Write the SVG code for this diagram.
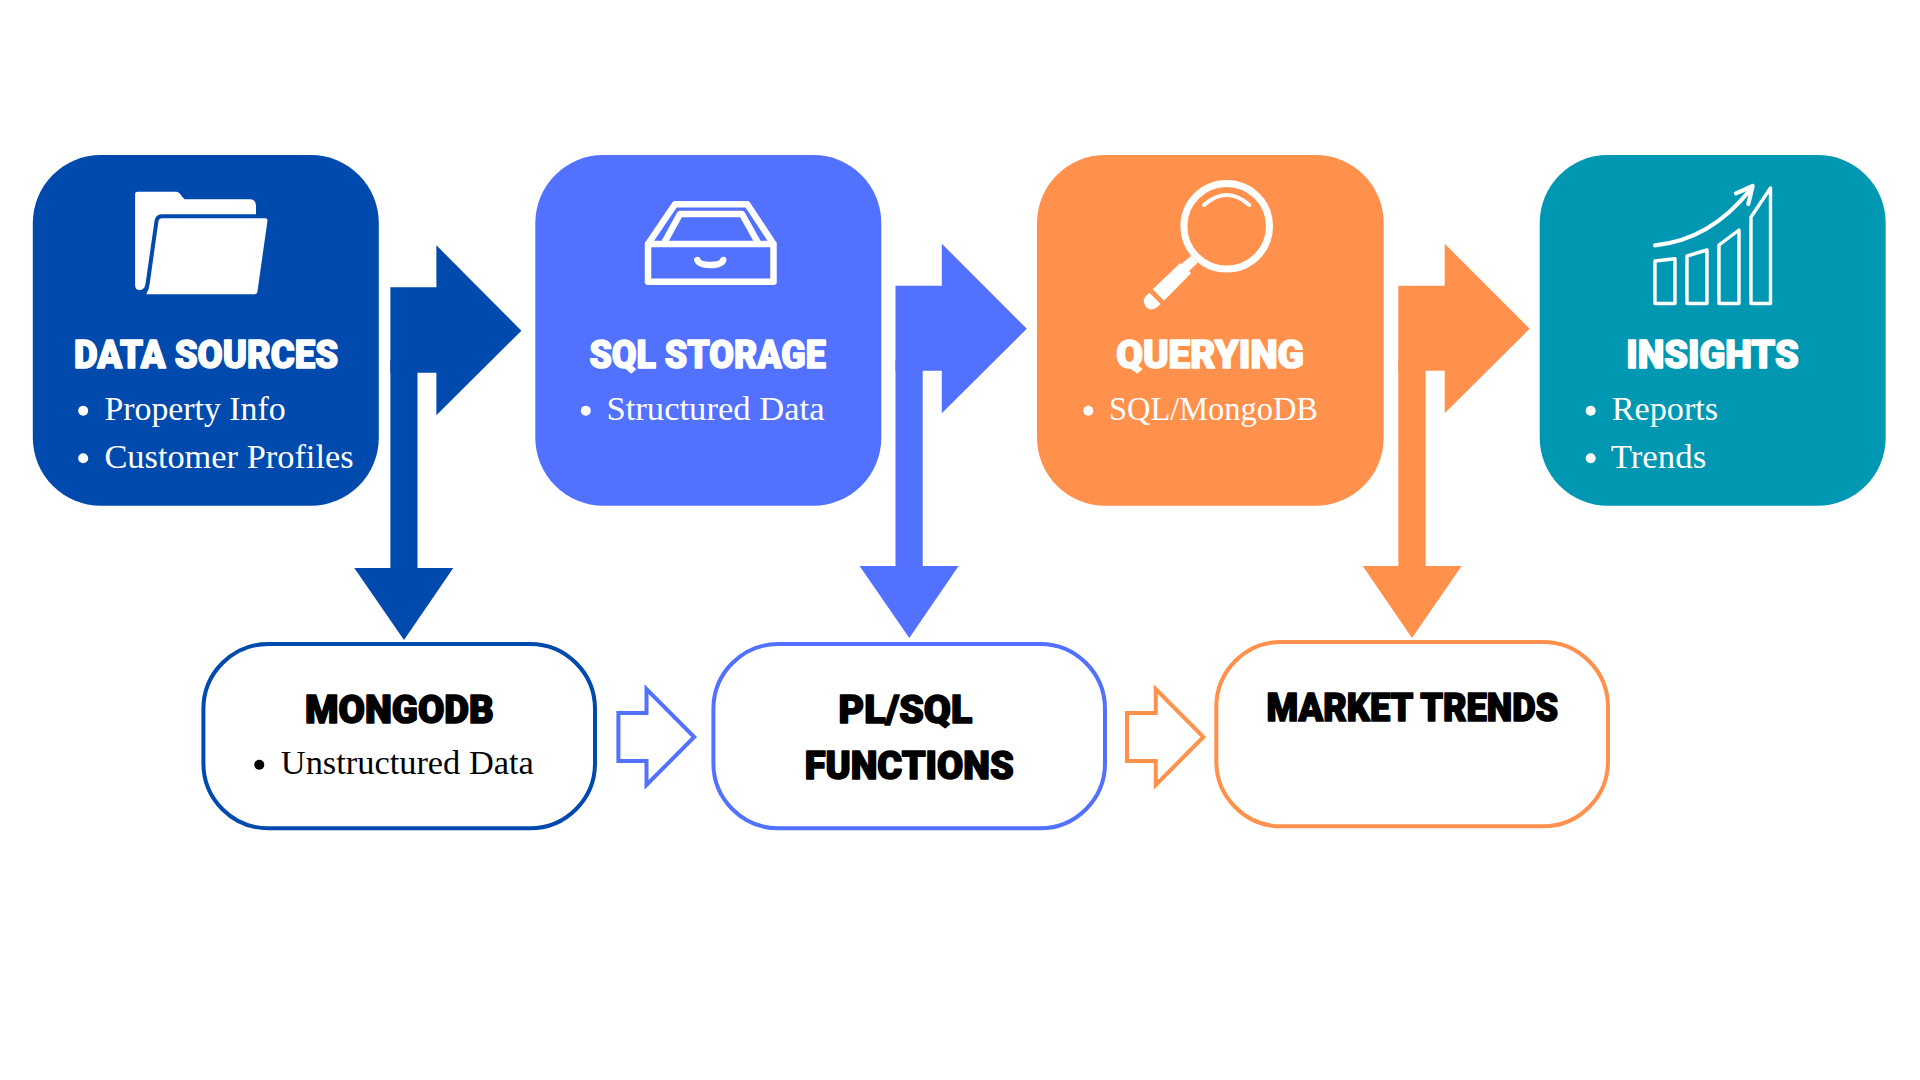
<svg xmlns="http://www.w3.org/2000/svg" width="1920" height="1080" viewBox="0 0 1920 1080">
<style>
.title{font-family:"Roboto","Liberation Sans",sans-serif;font-weight:900;font-size:38px;stroke-width:1.6px;stroke-linejoin:round}
.w{fill:#fff;stroke:#fff}
.k{fill:#000;stroke:#000}
.body{font-family:"Liberation Serif",serif;font-size:34px}
.bw{fill:#fff}
.bk{fill:#000}
.ln{fill:none;stroke:#fff;stroke-linejoin:round;stroke-linecap:round}
.box{stroke:none}
.sub{fill:#fff;stroke-width:4}
.hol{fill:#fff;stroke-width:4;stroke-linejoin:miter}
</style>
<rect width="1920" height="1080" fill="#fff"/>
<g id="connectors">
<g id="arrow-sources-sql" fill="#004AAD"><polygon points="390.4,287.3 436.4,287.3 436.4,245.3 521.4,330.7 436.4,415.3 436.4,372.7 390.4,372.7"/></g>
<g id="arrow-sources-mongodb" fill="#004AAD"><polygon points="390.4,360 417.5,360 417.5,568 453.3,568 404,640 354.3,568 390.4,568"/></g>
<g id="arrow-sql-querying" fill="#5271FF"><polygon points="895.5,285.7 941.8,285.7 941.8,243.7 1026.8,328.7 941.8,413.3 941.8,370.7 895.5,370.7"/></g>
<g id="arrow-sql-plsql" fill="#5271FF"><polygon points="895.5,360 922.7,360 922.7,566 958.6,566 909.3,638 859.6,566 895.5,566"/></g>
<g id="arrow-querying-insights" fill="#FF914D"><polygon points="1398.3,285.7 1444.7,285.7 1444.7,243.7 1529.7,328.7 1444.7,413.3 1444.7,370.7 1398.3,370.7"/></g>
<g id="arrow-querying-market" fill="#FF914D"><polygon points="1398.3,360 1425.7,360 1425.7,566 1461.6,566 1412,638 1362.7,566 1398.3,566"/></g>
<polygon id="arrow-mongodb-plsql" class="hol" stroke="#5271FF" points="618.4,713 646.5,713 646.5,689 694.2,737 646.5,785 646.5,761 618.4,761"/>
<polygon id="arrow-plsql-market" class="hol" stroke="#FF914D" points="1127,713 1155.8,713 1155.8,689 1203.4,737 1155.8,785 1155.8,761 1127,761"/>
</g>

<g id="data-sources">
<rect class="box" x="32.8" y="155" width="346" height="350.7" rx="68" fill="#004AAD"/>
<g id="icon-folder" fill="#fff">
<path d="M137.5,191.7H176.5Q179.5,192 181.5,196L184.5,199.3H250.5Q255.5,200 256,205V214.3H161.5Q155.5,214.5 154.5,221L145.5,284Q144.5,290 139.5,290Q135.1,290 135.1,285V194Q135.1,191.7 137.5,191.7Z"/>
<path d="M161.5,218.3H265.5Q267.5,218.3 267.5,220.5L257.3,292.5Q256.9,294.3 254.5,294.3H146.2Q149,290 149.8,283L158.5,221Q159,218.3 161.5,218.3Z"/>
</g>
<text class="title w" x="74" y="367.7" textLength="264" lengthAdjust="spacingAndGlyphs">DATA SOURCES</text>
<circle class="bw" cx="83.2" cy="410.7" r="5"/>
<text class="body bw" x="104.4" y="420.4" textLength="181.3" lengthAdjust="spacingAndGlyphs">Property Info</text>
<circle class="bw" cx="83.2" cy="458.3" r="5"/>
<text class="body bw" x="104.4" y="468.1" textLength="249.2" lengthAdjust="spacingAndGlyphs">Customer Profiles</text>
</g>

<g id="sql-storage">
<rect class="box" x="535.3" y="155" width="346" height="350.7" rx="68" fill="#5271FF"/>
<g id="icon-drawer" class="ln">
<path stroke-width="6.5" d="M648,244H773.5V281.7H648ZM648,244L675,204.2H747.3L773.5,244"/>
<path stroke-width="6.5" stroke-linecap="butt" d="M664.6,242L680,214H742L757.6,242"/>
<path stroke-width="6.5" d="M697.3,260Q699,265 710,265Q722,265 723.2,260"/>
</g>
<text class="title w" x="589.4" y="367.7" textLength="236.4" lengthAdjust="spacingAndGlyphs">SQL STORAGE</text>
<circle class="bw" cx="585.8" cy="410.7" r="5"/>
<text class="body bw" x="606.5" y="420.4" textLength="218" lengthAdjust="spacingAndGlyphs">Structured Data</text>
</g>

<g id="querying">
<rect class="box" x="1037" y="155" width="346.7" height="350.7" rx="68" fill="#FF914D"/>
<g id="icon-magnifier">
<circle cx="1226.7" cy="226.3" r="42.8" fill="none" stroke="#fff" stroke-width="7"/>
<path class="ln" stroke-width="4" d="M1204,205Q1226.7,185 1249.3,205"/>
<g fill="#fff">
<polygon points="1191,256 1197.7,262.7 1188.3,271.7 1181,264.3"/>
<polygon points="1180,263.3 1191,273.3 1164,300.7 1152.7,289.3"/>
<path d="M1149.3,292.7L1160.7,304L1156,308Q1151,311 1146.5,307.5Q1142,302 1145,297Z"/>
</g>
</g>
<text class="title w" x="1116.2" y="367.7" textLength="187.8" lengthAdjust="spacingAndGlyphs">QUERYING</text>
<circle class="bw" cx="1088.3" cy="410.7" r="5"/>
<text class="body bw" x="1109" y="420.4" textLength="209" lengthAdjust="spacingAndGlyphs">SQL/MongoDB</text>
</g>

<g id="insights">
<rect class="box" x="1539.7" y="155" width="346" height="350.7" rx="68" fill="#0097B2"/>
<g id="icon-chart" class="ln">
<path stroke-width="3.4" d="M1655,303.5V261L1675,258.7V303.5ZM1687,303.5V256L1707,250V303.5ZM1719,303.5V245L1739,230V303.5ZM1751,303.5V217L1770.5,188V303.5Z"/>
<path stroke-width="4.2" d="M1655,245.3Q1710,240 1750,190"/>
<path stroke-width="4.2" d="M1736,193.3L1752.7,186L1748.3,204"/>
</g>
<text class="title w" x="1626.2" y="367.7" textLength="172.4" lengthAdjust="spacingAndGlyphs">INSIGHTS</text>
<circle class="bw" cx="1590.7" cy="410.7" r="5"/>
<text class="body bw" x="1611.7" y="420.4" textLength="106.5" lengthAdjust="spacingAndGlyphs">Reports</text>
<circle class="bw" cx="1590.7" cy="458.3" r="5"/>
<text class="body bw" x="1610.7" y="468.1" textLength="95.5" lengthAdjust="spacingAndGlyphs">Trends</text>
</g>

<g id="mongodb">
<rect class="sub" x="203.4" y="644" width="391.6" height="184.3" rx="65" stroke="#004AAD"/>
<text class="title k" x="305" y="722.7" textLength="188.8" lengthAdjust="spacingAndGlyphs">MONGODB</text>
<circle class="bk" cx="259.3" cy="764.7" r="5"/>
<text class="body bk" x="280.8" y="774.1" textLength="253" lengthAdjust="spacingAndGlyphs">Unstructured Data</text>
</g>

<g id="plsql-functions">
<rect class="sub" x="713.4" y="644" width="391.6" height="184.3" rx="65" stroke="#5271FF"/>
<text class="title k" x="838.6" y="722.7" textLength="133.6" lengthAdjust="spacingAndGlyphs">PL/SQL</text>
<text class="title k" x="804.7" y="778.7" textLength="209" lengthAdjust="spacingAndGlyphs">FUNCTIONS</text>
</g>

<g id="market-trends">
<rect class="sub" x="1216.3" y="642" width="391.7" height="184.3" rx="65" stroke="#FF914D"/>
<text class="title k" x="1266.6" y="720.7" textLength="291.6" lengthAdjust="spacingAndGlyphs">MARKET TRENDS</text>
</g>
</svg>
